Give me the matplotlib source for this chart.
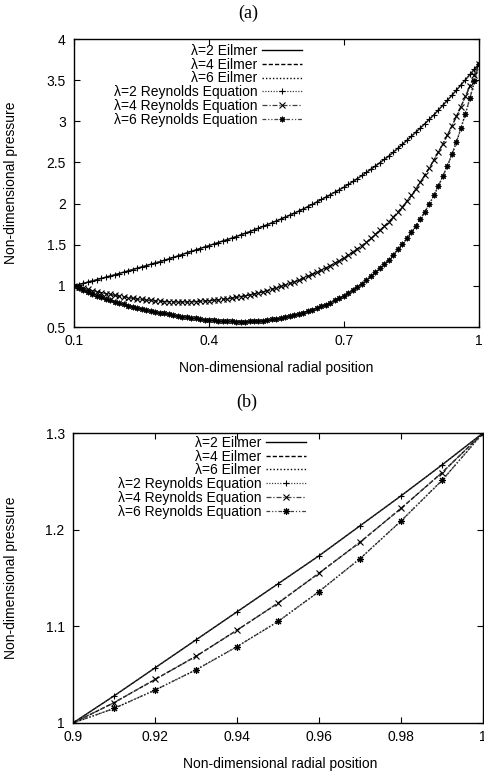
import numpy as np
import matplotlib
matplotlib.use("Agg")
import matplotlib.pyplot as plt

# ---------------- data: panel (a) ----------------
r_a = np.round(np.arange(10, 101) / 100.0, 2)  # radial positions 0.10 ... 1.00

p2_a = [1.000, 1.015, 1.030, 1.045, 1.060, 1.075, 1.090, 1.105, 1.120, 1.135,
        1.150, 1.166, 1.182, 1.198, 1.214, 1.230, 1.246, 1.262, 1.278, 1.294,
        1.310, 1.327, 1.345, 1.363, 1.381, 1.400, 1.418, 1.436, 1.454, 1.472,
        1.490, 1.508, 1.526, 1.544, 1.562, 1.580, 1.599, 1.619, 1.639, 1.659,
        1.680, 1.701, 1.723, 1.745, 1.767, 1.790, 1.813, 1.837, 1.861, 1.885,
        1.910, 1.937, 1.964, 1.992, 2.021, 2.050, 2.079, 2.109, 2.139, 2.169,
        2.200, 2.234, 2.269, 2.305, 2.342, 2.380, 2.419, 2.458, 2.498, 2.539,
        2.580, 2.626, 2.673, 2.721, 2.770, 2.820, 2.870, 2.921, 2.973, 3.026,
        3.080, 3.138, 3.197, 3.257, 3.318, 3.380, 3.443, 3.506, 3.570, 3.635,
        3.700]

p4_a = [1.000, 0.985, 0.971, 0.957, 0.943, 0.930, 0.918, 0.907, 0.896, 0.885,
        0.875, 0.866, 0.858, 0.850, 0.842, 0.835, 0.829, 0.824, 0.819, 0.814,
        0.810, 0.808, 0.806, 0.805, 0.805, 0.805, 0.807, 0.810, 0.813, 0.816,
        0.820, 0.825, 0.830, 0.836, 0.843, 0.850, 0.859, 0.869, 0.879, 0.889,
        0.900, 0.914, 0.928, 0.943, 0.959, 0.975, 0.993, 1.011, 1.030, 1.050,
        1.070, 1.093, 1.116, 1.140, 1.165, 1.190, 1.218, 1.247, 1.277, 1.308,
        1.340, 1.376, 1.413, 1.451, 1.490, 1.530, 1.577, 1.626, 1.676, 1.727,
        1.780, 1.838, 1.898, 1.962, 2.030, 2.100, 2.180, 2.262, 2.348, 2.438,
        2.530, 2.628, 2.729, 2.834, 2.945, 3.060, 3.180, 3.303, 3.430, 3.563,
        3.700]

p6_a = [1.000, 0.974, 0.949, 0.925, 0.902, 0.880, 0.861, 0.842, 0.824, 0.807,
        0.790, 0.775, 0.761, 0.747, 0.733, 0.720, 0.708, 0.697, 0.686, 0.675,
        0.665, 0.655, 0.645, 0.636, 0.627, 0.618, 0.611, 0.604, 0.597, 0.591,
        0.585, 0.581, 0.577, 0.573, 0.570, 0.568, 0.567, 0.567, 0.567, 0.568,
        0.570, 0.574, 0.579, 0.585, 0.592, 0.600, 0.610, 0.621, 0.633, 0.646,
        0.660, 0.676, 0.693, 0.711, 0.730, 0.750, 0.773, 0.797, 0.823, 0.851,
        0.880, 0.913, 0.948, 0.986, 1.027, 1.070, 1.116, 1.164, 1.214, 1.266,
        1.320, 1.381, 1.443, 1.508, 1.577, 1.650, 1.730, 1.814, 1.903, 1.998,
        2.100, 2.215, 2.337, 2.463, 2.600, 2.750, 2.918, 3.095, 3.283, 3.485,
        3.700]

# ---------------- data: panel (b) ----------------
r_b = [0.90, 0.91, 0.92, 0.93, 0.94, 0.95, 0.96, 0.97, 0.98, 0.99, 1.00]
p2_b = [1.000, 1.028, 1.057, 1.086, 1.115, 1.144, 1.173, 1.204, 1.235, 1.267, 1.300]
p4_b = [1.000, 1.021, 1.045, 1.069, 1.096, 1.124, 1.155, 1.187, 1.222, 1.259, 1.300]
p6_b = [1.000, 1.015, 1.034, 1.055, 1.079, 1.105, 1.136, 1.170, 1.209, 1.251, 1.300]

labels_eilmer = ["λ=2 Eilmer", "λ=4 Eilmer", "λ=6 Eilmer"]
labels_reyn = ["λ=2 Reynolds Equation", "λ=4 Reynolds Equation", "λ=6 Reynolds Equation"]

xticks_a = [0.1, 0.4, 0.7, 1.0]
xticklabels_a = ["0.1", "0.4", "0.7", "1"]
yticks_a = [0.5, 1, 1.5, 2, 2.5, 3, 3.5, 4]
yticklabels_a = ["0.5", "1", "1.5", "2", "2.5", "3", "3.5", "4"]
xticks_b = [0.9, 0.92, 0.94, 0.96, 0.98, 1.0]
xticklabels_b = ["0.9", "0.92", "0.94", "0.96", "0.98", "1"]
yticks_b = [1.0, 1.1, 1.2, 1.3]
yticklabels_b = ["1", "1.1", "1.2", "1.3"]

# ---------------- styling ----------------
plt.rcParams['font.family'] = ['Liberation Sans', 'DejaVu Sans']
plt.rcParams['font.size'] = 10

eil_styles = ['-', (0, (3, 1.5)), (0, (1, 1.5))]
rey_styles = [(0, (1, 1.2)), (0, (4, 1.5, 1, 1.5)), (0, (3, 1.5, 1, 1.5, 1, 1.5))]
rey_markers = ['+', 'x', (8, 2, 0)]

fig = plt.figure(figsize=(4.85, 7.72), dpi=100)
ax_a = fig.add_axes([0.1526, 0.5764, 0.835, 0.373])
ax_b = fig.add_axes([0.1505, 0.0635, 0.8454, 0.3756])


def draw(ax, r, series, ms, xt, xtl, yt, ytl, xlim, ylim, leg_anchor):
    for p, ls, lab in zip(series, eil_styles, labels_eilmer):
        ax.plot(r, p, color='black', lw=1.0, ls=ls, label=lab)
    for p, ls, mk, lab in zip(series, rey_styles, rey_markers, labels_reyn):
        ax.plot(r, p, color='0.25', lw=0.9, ls=ls, marker=mk, ms=ms,
                mec='black', mew=0.8, label=lab)
    ax.set_xlim(*xlim)
    ax.set_ylim(*ylim)
    ax.set_xticks(xt)
    ax.set_xticklabels(xtl)
    ax.set_yticks(yt)
    ax.set_yticklabels(ytl)
    ax.tick_params(direction='in', length=4, width=0.8, top=True, right=True,
                   labelsize=10)
    ax.tick_params(axis='x', pad=5)
    ax.tick_params(axis='y', pad=6)
    for s in ax.spines.values():
        s.set_linewidth(1.0)
    ax.set_xlabel("Non-dimensional radial position", fontsize=10)
    ax.set_ylabel("Non-dimensional pressure", fontsize=10)
    leg = ax.legend(loc='upper right', bbox_to_anchor=leg_anchor, frameon=False,
                    markerfirst=False, fontsize=10, handlelength=2.9,
                    handletextpad=0.3, labelspacing=-0.02, borderpad=0,
                    borderaxespad=0, numpoints=1)
    return leg


draw(ax_a, r_a, [p2_a, p4_a, p6_a], 4, xticks_a, xticklabels_a, yticks_a,
     yticklabels_a, (0.1, 1.0), (0.5, 4.0), (0.563, 0.983))
draw(ax_b, r_b, [p2_b, p4_b, p6_b], 5, xticks_b, xticklabels_b, yticks_b,
     yticklabels_b, (0.9, 1.0), (1.0, 1.3), (0.568, 0.99))

ax_a.xaxis.set_label_coords(0.5, -0.118)
ax_b.xaxis.set_label_coords(0.505, -0.117)
ax_a.yaxis.set_label_coords(-0.138, 0.5)
ax_b.yaxis.set_label_coords(-0.134, 0.5)

fig.text(0.512, 0.983, "(a)", ha='center', va='center',
         family=['Liberation Serif', 'DejaVu Serif'], fontsize=13)
fig.text(0.508, 0.479, "(b)", ha='center', va='center',
         family=['Liberation Serif', 'DejaVu Serif'], fontsize=13)

fig.savefig("out.png", dpi=100)
